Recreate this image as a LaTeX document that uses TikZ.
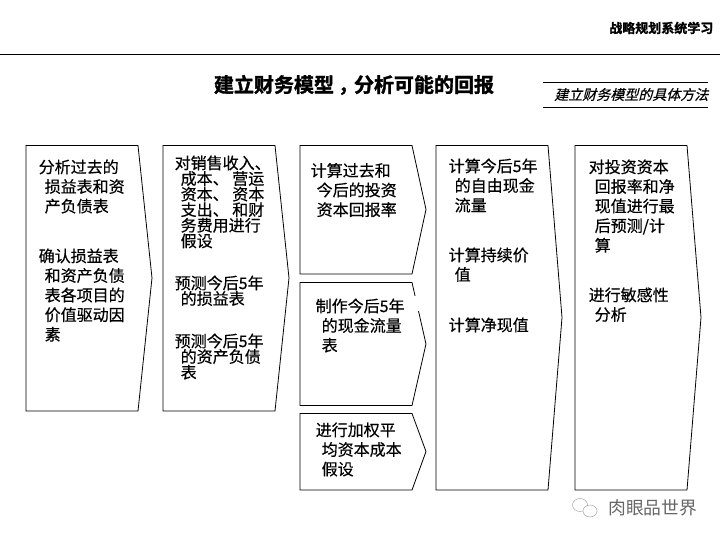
\documentclass[tikz,border=0pt]{standalone}
\usepackage{fontspec}
\setmainfont[FakeBold=0.4]{Noto Sans CJK SC}
\newfontfamily\cjkbold[FakeBold=1.6]{Noto Sans CJK SC Bold}
\newfontfamily\cjkslant[FakeSlant=0.25,FakeBold=0.4]{Noto Sans CJK SC}
\newfontfamily\cjkplain{Noto Sans CJK SC}
\newcommand{\hg}{\hspace*{6pt}}
\tikzset{
  x=1pt,y=-1pt,
  pent/.style={draw=black,line width=0.8pt,fill=white,line join=miter},
  txt/.style={anchor=north west,inner sep=0pt,align=left,text=black,yshift=0.7pt,font=\fontsize{16}{19.6}\selectfont},
  tight/.style={txt,font=\fontsize{16}{15.6}\selectfont},
  rulea/.style={draw=black,line width=0.8pt},
}
\begin{document}
\begin{tikzpicture}
\useasboundingbox (0,0) rectangle (720,540);
% header
\node[anchor=east,inner sep=0pt,font=\cjkbold\fontsize{13}{15}\selectfont] (hdr) at (713.5,28) {战略规划系统学习};
\coordinate (hl) at (0,54); \coordinate (hr) at (720,54);
\draw[rulea] (hl) -- (hr);
\node[anchor=center,inner sep=0pt,font=\cjkbold\fontsize{20}{24}\selectfont] (title) at (354,85) {建立财务模型\hspace{4pt}，\hspace{-4pt}分析可能的回报};
\coordinate (s1l) at (543,82); \coordinate (s1r) at (708,82);
\coordinate (s2l) at (543,107); \coordinate (s2r) at (708,107);
\draw[rulea] (s1l) -- (s1r);
\draw[rulea] (s2l) -- (s2r);
\node[anchor=east,inner sep=0pt,font=\cjkslant\fontsize{14}{16}\selectfont] (sub) at (708.5,94.5) {建立财务模型的具体方法};
% pentagons
\draw[pent] (26,145.5) -- (138,145.5) -- (152,278) -- (138,411) -- (26,411) -- cycle;
\draw[pent] (163,145.5) -- (275,145.5) -- (289,278) -- (275,411) -- (163,411) -- cycle;
\draw[pent] (300,145.5) -- (412,145.5) -- (426,209.5) -- (412,274) -- (300,274) -- cycle;
\draw[pent] (300,282.5) -- (412,282.5) -- (426,344) -- (412,405.5) -- (300,405.5) -- cycle;
\fill[white] (411,296) rectangle (419,311);
\draw[pent] (300,413.5) -- (412,413.5) -- (426,451.5) -- (412,490) -- (300,490) -- cycle;
\draw[pent] (436,145.5) -- (548,145.5) -- (562,317.5) -- (548,490) -- (436,490) -- cycle;
\draw[pent] (575,145.5) -- (687,145.5) -- (701,317.5) -- (687,490) -- (575,490) -- cycle;
% box 1
\node[txt] (a1) at (38.5,160) {分析过去的\\\hg 损益表和资\\\hg 产负债表};
\node[txt] (a2) at (38.5,249) {确认损益表\\\hg 和资产负债\\\hg 表各项目的\\\hg 价值驱动因\\\hg 素};
% box 2
\node[tight] (b1) at (174.5,156) {对销售收入、\\\hg 成本、 营运\\\hg 资本、 资本\\\hg 支出、 和财\\\hg 务费用进行\\\hg 假设};
\node[tight] (b2) at (174.5,276) {预测今后5年\\\hg 的损益表};
\node[tight] (b3) at (174.5,334) {预测今后5年\\\hg 的资产负债\\\hg 表};
% box 3,4,5
\node[txt] (c1) at (310.5,163.5) {计算过去和\\\hg 今后的投资\\\hg 资本回报率};
\node[txt] (d1) at (315.5,299) {制作今后5年\\\hg 的现金流量\\\hg 表};
\node[txt] (e1) at (315.5,423) {进行加权平\\\hg 均资本成本\\\hg 假设};
% box 6
\node[txt] (f1) at (448.5,159) {计算今后5年\\\hg 的自由现金\\\hg 流量};
\node[txt] (f2) at (448.5,248) {计算持续价\\\hg 值};
\node[txt] (f3) at (448.5,318) {计算净现值};
% box 7
\node[txt] (g1) at (588.5,160) {对投资资本\\\hg 回报率和净\\\hg 现值进行最\\\hg 后预测/计\\\hg 算};
\node[txt] (g2) at (588.5,288) {进行敏感性\\\hg 分析};
% watermark
\draw[black!35,line width=0.5pt] (580,505) ellipse (7.5 and 6.5);
\draw[black!35,line width=0.5pt,fill=white] (590,511) ellipse (7 and 6);
\node[anchor=west,inner sep=0pt,text=black!60,font=\cjkplain\fontsize{17.8}{20}\selectfont] (wm) at (608,508) {肉眼品世界};
\end{tikzpicture}
\end{document}
